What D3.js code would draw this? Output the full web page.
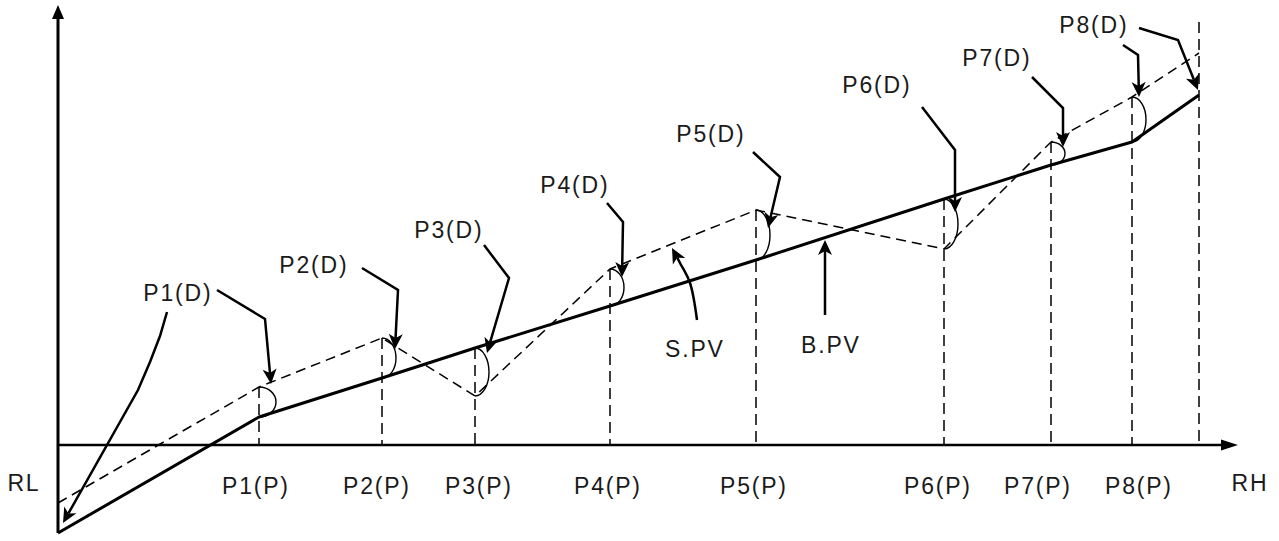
<!DOCTYPE html>
<html>
<head>
<meta charset="utf-8">
<script src="https://cdn.jsdelivr.net/npm/d3@7"></script>
<style>
  html, body { margin: 0; padding: 0; background: #fff; }
  svg { display: block; }
  text { font-family: "Liberation Sans", Arial, sans-serif; font-size: 23px; letter-spacing: 1.8px; fill: #1a1a1a; }
</style>
</head>
<body>
<script>
// ---------- data (diagram units: x along range, y above baseline) ----------
const categories   = ["P1", "P2", "P3", "P4", "P5", "P6", "P7", "P8"];
const pPosition    = [201, 324, 417, 552, 698, 886, 993, 1074];
const bpvValues    = [28, 67, 97, 139, 185, 246, 280, 303];
const spvValues    = [58, 107, 49, 176, 235, 196, 303, 348];
const rlPoint      = { x: 0, bpv: -88, spv: -58 };
const rhPoint      = { x: 1141, bpv: 350, spv: 392, top: 423 };
const axisLabels   = ["P1(P)", "P2(P)", "P3(P)", "P4(P)", "P5(P)", "P6(P)", "P7(P)", "P8(P)"];
const axisLabelX   = [197, 318, 420, 549, 695, 879, 979, 1080];
const dLabels      = ["P1(D)", "P2(D)", "P3(D)", "P4(D)", "P5(D)", "P6(D)", "P7(D)", "P8(D)"];
const dLabelPos    = [[119,152],[255,180],[390,215],[516,260],[652,311],[818,360],[938,387],[1035,420]];
const leaders = [
  { pts: [[159,155],[207,126],[213,61]], curve: false },
  { pts: [[109,133],[102,109],[92,83],[80,55],[5,-78]], curve: false },
  { pts: [[304,177],[340,155],[337,96]], curve: false },
  { pts: [[426,200],[451,167],[429,92]], curve: false },
  { pts: [[549,242],[565,223],[564,168]], curve: false },
  { pts: [[695,293],[722,268],[710,217]], curve: false },
  { pts: [[864,338],[897,295],[897,233]], curve: false },
  { pts: [[974,368],[1005,337],[1005,298]], curve: false },
  { pts: [[1065,400],[1080,390],[1081,348]], curve: false },
  { pts: [[1081,417],[1120,405],[1140,355]], curve: false },
  { pts: [[639,125],[632,162],[622,182],[614,197]], curve: true },
  { pts: [[767,130],[767,205]], curve: false }
];
const seriesLabels = [{ text: "S.PV", pos: [636, 96] }, { text: "B.PV", pos: [772, 100] }];
const endLabels    = [{ text: "RL", pos: [-35, -38] }, { text: "RH", pos: [1191, -38] }];
const axisExtent   = { xMax: 1180, yMin: -88, yMax: 440 };

// ---------- scales ----------
const W = 1279, H = 541;
const x = d3.scaleLinear().domain([0, 1141]).range([58, 1199]);
const y = d3.scaleLinear().domain([0, 440]).range([445, 5]);

const svg = d3.select("body").append("svg").attr("width", W).attr("height", H);

function headPoints(tip, from, len, half, notch) {
  const dx = tip[0] - from[0], dy = tip[1] - from[1];
  const L = Math.hypot(dx, dy);
  const ux = dx / L, uy = dy / L, nx = -uy, ny = ux;
  const bx = tip[0] - ux * len, by = tip[1] - uy * len;
  const mx = tip[0] - ux * (len - notch), my = tip[1] - uy * (len - notch);
  return { poly: [tip, [bx + nx * half, by + ny * half], [mx, my], [bx - nx * half, by - ny * half]], mid: [mx, my] };
}
function drawHead(tip, from, len, half, notch) {
  const h = headPoints(tip, from, len, half, notch);
  svg.append("polygon").attr("points", h.poly.map(p => p.join(",")).join(" ")).attr("fill", "#000");
  return h.mid;
}

// ---------- axes ----------
const yTip = [x(0), y(axisExtent.yMax)];
const yBase = drawHead(yTip, [x(0), y(0)], 14, 6, 0);
svg.append("line").attr("x1", x(0)).attr("y1", y(axisExtent.yMin)).attr("x2", x(0)).attr("y2", yBase[1])
  .attr("stroke", "#000").attr("stroke-width", 3);
const xTip = [x(axisExtent.xMax), y(0)];
const xBase = drawHead(xTip, [x(0), y(0)], 17, 5.5, 0);
svg.append("line").attr("x1", x(0) - 1).attr("y1", y(0)).attr("x2", xBase[0]).attr("y2", y(0))
  .attr("stroke", "#000").attr("stroke-width", 2.5);

// ---------- vertical dashed guide lines ----------
categories.forEach((c, i) => {
  const top = Math.max(bpvValues[i], spvValues[i]);
  svg.append("line").attr("x1", x(pPosition[i])).attr("x2", x(pPosition[i]))
    .attr("y1", y(top)).attr("y2", y(0))
    .attr("stroke", "#000").attr("stroke-width", 1.5).attr("stroke-dasharray", "11,6");
});
svg.append("line").attr("x1", x(rhPoint.x)).attr("x2", x(rhPoint.x))
  .attr("y1", y(rhPoint.top)).attr("y2", y(0))
  .attr("stroke", "#000").attr("stroke-width", 1.5).attr("stroke-dasharray", "11,6");

// ---------- series lines ----------
const spvPts = [[rlPoint.x, rlPoint.spv]].concat(pPosition.map((p, i) => [p, spvValues[i]]), [[rhPoint.x, rhPoint.spv]]);
const bpvPts = [[rlPoint.x, rlPoint.bpv]].concat(pPosition.map((p, i) => [p, bpvValues[i]]), [[rhPoint.x, rhPoint.bpv]]);
const line = d3.line().x(d => x(d[0])).y(d => y(d[1]));
svg.append("path").attr("d", line(spvPts)).attr("fill", "none").attr("stroke", "#000")
  .attr("stroke-width", 1.5).attr("stroke-dasharray", "10,6");
svg.append("path").attr("d", line(bpvPts)).attr("fill", "none").attr("stroke", "#000")
  .attr("stroke-width", 3).attr("stroke-linejoin", "round");

// ---------- deviation arcs ----------
categories.forEach((c, i) => {
  const px = x(pPosition[i]);
  const yTop = Math.min(y(bpvValues[i]), y(spvValues[i]));
  const yBot = Math.max(y(bpvValues[i]), y(spvValues[i]));
  const ry = (yBot - yTop) / 2;
  const rx = i === 0 ? 17 : 14;
  svg.append("path").attr("d", `M${px},${yTop} A${rx},${ry} 0 0 1 ${px},${yBot}`)
    .attr("fill", "none").attr("stroke", "#000").attr("stroke-width", 1.4);
});

// ---------- leaders with arrowheads ----------
leaders.forEach(l => {
  const pts = l.pts.map(p => [x(p[0]), y(p[1])]);
  const tip = pts[pts.length - 1];
  const prev = pts[pts.length - 2];
  const mid = drawHead(tip, prev, 15, 7, 4);
  const linePts = pts.slice(0, -1).concat([mid]);
  const g = d3.line().curve(l.curve ? d3.curveCatmullRom : d3.curveLinear);
  svg.append("path").attr("d", g(linePts)).attr("fill", "none").attr("stroke", "#000")
    .attr("stroke-width", 2.5).attr("stroke-linejoin", "miter");
});

// ---------- texts ----------
function label(t, px, py) {
  svg.append("text").attr("x", px + 0.9).attr("y", py + 8).attr("text-anchor", "middle").text(t);
}
axisLabels.forEach((t, i) => label(t, x(axisLabelX[i]), y(-41)));
dLabels.forEach((t, i) => label(t, x(dLabelPos[i][0]), y(dLabelPos[i][1])));
seriesLabels.forEach(s => label(s.text, x(s.pos[0]), y(s.pos[1])));
endLabels.forEach(s => label(s.text, x(s.pos[0]), y(s.pos[1])));
</script>
</body>
</html>
